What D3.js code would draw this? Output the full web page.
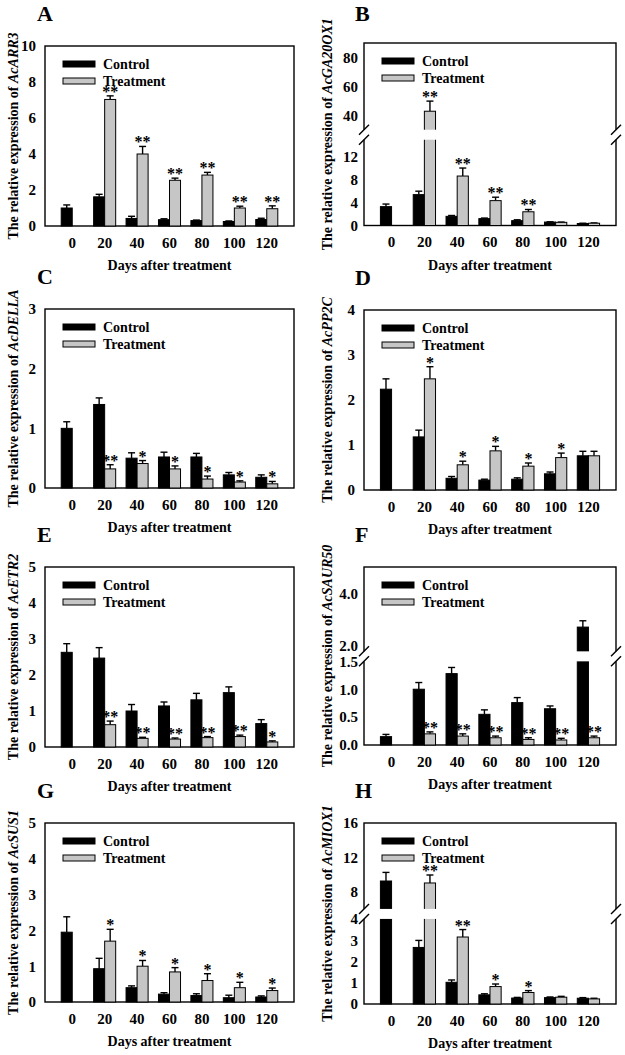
<!DOCTYPE html>
<html><head><meta charset="utf-8">
<script src="https://cdn.jsdelivr.net/npm/d3@7"></script>
<style>
body{margin:0;background:#fff}
svg{display:block}
text{font-family:"Liberation Serif","Times New Roman",serif;font-weight:bold}
</style>
</head><body>
<svg id="c" width="625" height="1055"></svg>
<script>
// ---------- data ----------
const days = ["0","20","40","60","80","100","120"];
const series = ["Control","Treatment"];
const xTitle = "Days after treatment";
const yTitlePrefix = "The relative expression of ";

// A: AcARR3
const aCtrl    = [1.0, 1.62, 0.42, 0.35, 0.30, 0.25, 0.36];
const aCtrlErr = [0.17, 0.14, 0.12, 0.05, 0.03, 0.03, 0.07];
const aTrt     = [null, 7.03, 4.0, 2.54, 2.83, 1.0, 0.96];
const aTrtErr  = [null, 0.2, 0.42, 0.12, 0.15, 0.1, 0.16];
const aSig     = ["", "**", "**", "**", "**", "**", "**"];
const aTicks   = [0, 2, 4, 6, 8, 10];

// B: AcGA20OX1 (broken axis)
const bCtrl    = [3.3, 5.4, 1.6, 1.2, 0.85, 0.6, 0.35];
const bCtrlErr = [0.45, 0.6, 0.15, 0.1, 0.15, 0.05, 0.05];
const bTrt     = [null, 42.8, 8.65, 4.35, 2.4, 0.55, 0.4];
const bTrtErr  = [null, 7.0, 1.4, 0.6, 0.4, 0.05, 0.05];
const bSig     = ["", "**", "**", "**", "**", "", ""];
const bTicks   = [0, 4, 8, 12, 40, 60, 80];

// C: AcDELLA
const cCtrl    = [1.0, 1.4, 0.5, 0.52, 0.52, 0.22, 0.18];
const cCtrlErr = [0.11, 0.11, 0.09, 0.08, 0.06, 0.04, 0.04];
const cTrt     = [null, 0.32, 0.41, 0.32, 0.15, 0.1, 0.07];
const cTrtErr  = [null, 0.07, 0.05, 0.05, 0.05, 0.02, 0.04];
const cSig     = ["", "**", "*", "*", "*", "*", "*"];
const cTicks   = [0, 1, 2, 3];

// D: AcPP2C
const dCtrl    = [2.24, 1.18, 0.26, 0.22, 0.24, 0.36, 0.76];
const dCtrlErr = [0.23, 0.15, 0.04, 0.02, 0.03, 0.04, 0.1];
const dTrt     = [null, 2.47, 0.56, 0.87, 0.53, 0.72, 0.76];
const dTrtErr  = [null, 0.27, 0.08, 0.1, 0.07, 0.1, 0.1];
const dSig     = ["", "*", "*", "*", "*", "*", ""];
const dTicks   = [0, 1, 2, 3, 4];

// E: AcETR2
const eCtrl    = [2.63, 2.47, 1.0, 1.14, 1.31, 1.51, 0.65];
const eCtrlErr = [0.24, 0.29, 0.18, 0.11, 0.18, 0.16, 0.11];
const eTrt     = [null, 0.62, 0.24, 0.22, 0.26, 0.29, 0.14];
const eTrtErr  = [null, 0.1, 0.03, 0.03, 0.03, 0.04, 0.03];
const eSig     = ["", "**", "**", "**", "**", "**", "*"];
const eTicks   = [0, 1, 2, 3, 4, 5];

// F: AcSAUR50 (broken axis)
const fCtrl    = [0.15, 1.0, 1.28, 0.55, 0.76, 0.65, 2.72];
const fCtrlErr = [0.04, 0.12, 0.11, 0.08, 0.09, 0.05, 0.24];
const fTrt     = [null, 0.2, 0.16, 0.13, 0.1, 0.09, 0.13];
const fTrtErr  = [null, 0.035, 0.04, 0.03, 0.03, 0.03, 0.03];
const fSig     = ["", "**", "**", "**", "**", "**", "**"];
const fTicks   = [0, 0.5, 1.0, 1.5, 2.0, 4.0];

// G: AcSUS1
const gCtrl    = [1.95, 0.93, 0.4, 0.22, 0.18, 0.12, 0.14];
const gCtrlErr = [0.43, 0.29, 0.05, 0.04, 0.05, 0.07, 0.03];
const gTrt     = [null, 1.7, 1.0, 0.84, 0.6, 0.4, 0.32];
const gTrtErr  = [null, 0.33, 0.16, 0.12, 0.19, 0.15, 0.07];
const gSig     = ["", "*", "*", "*", "*", "*", "*"];
const gTicks   = [0, 1, 2, 3, 4, 5];

// H: AcMIOX1 (broken axis)
const hCtrl    = [9.25, 2.66, 1.02, 0.43, 0.28, 0.3, 0.27];
const hCtrlErr = [1.0, 0.33, 0.11, 0.05, 0.03, 0.03, 0.03];
const hTrt     = [null, 9.02, 3.15, 0.82, 0.54, 0.32, 0.24];
const hTrtErr  = [null, 0.93, 0.35, 0.12, 0.09, 0.04, 0.03];
const hSig     = ["", "**", "**", "*", "*", "", ""];
const hTicks   = [0, 1, 2, 3, 4, 8, 12, 16];

const panels = [
  {letter:"A", gene:"AcARR3",    ctrl:aCtrl, ctrlErr:aCtrlErr, trt:aTrt, trtErr:aTrtErr, sig:aSig, ticks:aTicks, dom:[0,10],
   col:0, top:46,  bottom:226},
  {letter:"B", gene:"AcGA20OX1", ctrl:bCtrl, ctrlErr:bCtrlErr, trt:bTrt, trtErr:bTrtErr, sig:bSig, ticks:bTicks, brk:[0,15,30,90],
   col:1, top:43,  bottom:225.5},
  {letter:"C", gene:"AcDELLA",   ctrl:cCtrl, ctrlErr:cCtrlErr, trt:cTrt, trtErr:cTrtErr, sig:cSig, ticks:cTicks, dom:[0,3],
   col:0, top:309, bottom:488},
  {letter:"D", gene:"AcPP2C",    ctrl:dCtrl, ctrlErr:dCtrlErr, trt:dTrt, trtErr:dTrtErr, sig:dSig, ticks:dTicks, dom:[0,4],
   col:1, top:310, bottom:490},
  {letter:"E", gene:"AcETR2",    ctrl:eCtrl, ctrlErr:eCtrlErr, trt:eTrt, trtErr:eTrtErr, sig:eSig, ticks:eTicks, dom:[0,5],
   col:0, top:567, bottom:747},
  {letter:"F", gene:"AcSAUR50",  ctrl:fCtrl, ctrlErr:fCtrlErr, trt:fTrt, trtErr:fTrtErr, sig:fSig, ticks:fTicks, brk:[0,1.5,1.8,5], fmt:".1f",
   col:1, top:567, bottom:745},
  {letter:"G", gene:"AcSUS1",    ctrl:gCtrl, ctrlErr:gCtrlErr, trt:gTrt, trtErr:gTrtErr, sig:gSig, ticks:gTicks, dom:[0,5],
   col:0, top:823, bottom:1002},
  {letter:"H", gene:"AcMIOX1",   ctrl:hCtrl, ctrlErr:hCtrlErr, trt:hTrt, trtErr:hTrtErr, sig:hSig, ticks:hTicks, brk:[0,4,6,16],
   col:1, top:823, bottom:1004}
];

// ---------- drawing ----------
const svg = d3.select("#c");
const FONT = '"Liberation Serif","Times New Roman",serif';
const colors = {Control:"#000000", Treatment:"#c6c6c6"};
const colX = [{L:45, R:294, title:13, letter:37}, {L:364, R:616, title:327, letter:355}];

panels.forEach(p => {
  const c = colX[p.col];
  const L = c.L, R = c.R, T = p.top, B = p.bottom;
  const g = svg.append("g");

  const x = d3.scaleBand().domain(days).range([L, R]).paddingInner(0.32).paddingOuter(0.5);
  const xs = d3.scaleBand().domain(series).range([0, x.bandwidth()]);
  let y, gapTop = null, gapBot = null;
  if (p.brk) {
    const h = B - T;
    gapBot = B - 0.47 * h;
    gapTop = gapBot - 10;
    y = d3.scaleLinear().domain(p.brk).range([B, gapBot, gapTop, T]);
  } else {
    y = d3.scaleLinear().domain(p.dom).range([B, T]);
  }

  // frame
  g.append("rect").attr("x", L).attr("y", T).attr("width", R - L).attr("height", B - T)
    .attr("fill", "none").attr("stroke", "#000").attr("stroke-width", 1.4);

  // bar data
  const rows = [];
  days.forEach((d, i) => {
    rows.push({day:d, s:"Control", v:p.ctrl[i], e:p.ctrlErr[i], sig:""});
    if (p.trt[i] != null) rows.push({day:d, s:"Treatment", v:p.trt[i], e:p.trtErr[i], sig:p.sig[i]});
  });
  const bx = d => x(d.day) + xs(d.s);
  const bw = xs.bandwidth();

  // error bars
  const eg = g.append("g").attr("stroke", "#000").attr("stroke-width", 1.4);
  eg.selectAll("line.v").data(rows).join("line").attr("class","v")
    .attr("x1", d => bx(d) + bw/2).attr("x2", d => bx(d) + bw/2)
    .attr("y1", d => y(d.v)).attr("y2", d => y(d.v + d.e));
  eg.selectAll("line.cap").data(rows).join("line").attr("class","cap")
    .attr("x1", d => bx(d) + bw/2 - 3.5).attr("x2", d => bx(d) + bw/2 + 3.5)
    .attr("y1", d => y(d.v + d.e)).attr("y2", d => y(d.v + d.e));

  // bars
  g.selectAll("rect.bar").data(rows).join("rect").attr("class","bar")
    .attr("x", bx).attr("width", bw)
    .attr("y", d => y(d.v)).attr("height", d => y(0) - y(d.v))
    .attr("fill", d => colors[d.s]).attr("stroke", "#000").attr("stroke-width", 1);

  // significance
  g.selectAll("text.sig").data(rows.filter(d => d.sig)).join("text").attr("class","sig")
    .attr("x", d => bx(d) + bw/2).attr("y", d => y(d.v + d.e) + 1)
    .attr("text-anchor", "middle").attr("font-size", 16).attr("fill", "#000")
    .text(d => d.sig);

  // axis break
  if (p.brk) {
    g.append("rect").attr("x", L - 2).attr("y", gapTop).attr("width", R - L + 4).attr("height", gapBot - gapTop)
      .attr("fill", "#fff");
    [L, R].forEach(ax => {
      [gapTop, gapBot].forEach(gy => {
        g.append("line").attr("x1", ax - 5).attr("y1", gy + 5).attr("x2", ax + 5).attr("y2", gy - 5)
          .attr("stroke", "#000").attr("stroke-width", 1.4);
      });
    });
  }

  // y axis
  const ya = g.append("g").attr("transform", `translate(${L},0)`)
    .call(d3.axisLeft(y).tickValues(p.ticks).tickSize(0).tickPadding(p.brk ? 6 : 9)
      .tickFormat(p.fmt ? d3.format(p.fmt) : d3.format("d")));
  ya.select(".domain").remove();
  ya.attr("font-family", FONT).attr("font-size", 15).attr("font-weight", "bold");

  // x axis
  const xa = g.append("g").attr("transform", `translate(0,${B})`)
    .call(d3.axisBottom(x).tickSize(0).tickPadding(11));
  xa.select(".domain").remove();
  xa.attr("font-family", FONT).attr("font-size", 15).attr("font-weight", "bold");

  // x title
  g.append("text").attr("x", (L + R) / 2).attr("y", B + 44).attr("text-anchor", "middle")
    .attr("font-size", 14).text(xTitle);

  // y title (kept inside the page)
  const yt = g.append("text").attr("text-anchor", "middle").attr("dy", "0.35em").attr("font-size", 14);
  yt.append("tspan").text(yTitlePrefix);
  yt.append("tspan").attr("font-style", "italic").text(p.gene);
  const len = yt.node().getComputedTextLength();
  const cy = Math.max((T + B) / 2, 5 + len / 2);
  yt.attr("transform", `translate(${c.title},${cy}) rotate(-90)`);

  // panel letter
  g.append("text").attr("x", c.letter).attr("y", Math.max(T - 25, 21)).attr("font-size", 22).text(p.letter);

  // legend
  const lg = g.append("g");
  series.forEach((s, i) => {
    const ly = T + 15 + i * 17;
    lg.append("rect").attr("x", L + 18).attr("y", ly).attr("width", 32).attr("height", 6)
      .attr("fill", colors[s]).attr("stroke", "#000").attr("stroke-width", 1);
    lg.append("text").attr("x", L + 58).attr("y", ly + 7.5).attr("font-size", 14).text(s);
  });
});
</script>
</body></html>
